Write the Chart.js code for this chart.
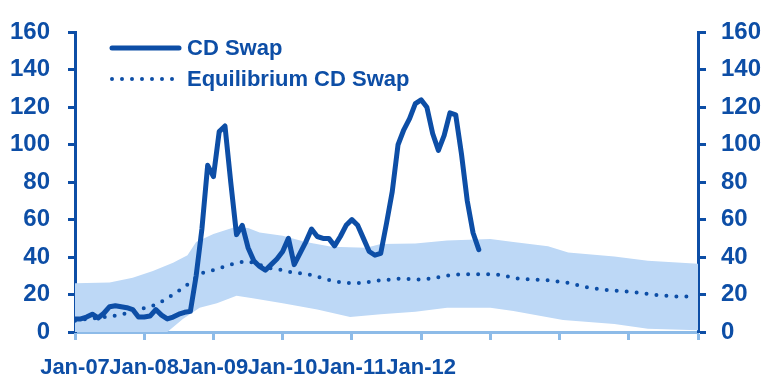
<!DOCTYPE html>
<html>
<head>
<meta charset="utf-8">
<script src="https://cdn.jsdelivr.net/npm/chart.js@4"></script>
<style>
  body { margin: 0; background: #fff; }
  canvas { display: block; }
</style>
</head>
<body>
<canvas id="chart" width="764" height="380"></canvas>
<script>
// months counted from Jan-07
const cdMonths = [0, 1, 2, 3, 4, 5, 6, 7, 8, 9, 10, 11, 12, 13, 14, 15, 16, 17, 18, 19, 20,
  21, 22, 23, 24, 25, 26, 27, 28, 29, 30, 31, 32, 33, 34, 35, 36, 37, 38, 39, 40,
  41, 42, 43, 44, 45, 46, 47, 48, 49, 50, 51, 52, 53, 54, 55, 56, 57, 58, 59, 60,
  61, 62, 63, 64, 65, 66, 67, 68, 69, 70];
const cdSwap = [7, 7, 8, 9.5, 7.5, 10, 13.5, 14, 13.5, 13, 12, 8, 8, 8.5, 12, 9, 7, 8, 9.5, 10.5, 11,
  30, 55, 89, 83, 107, 110, 80, 52, 57, 45, 38, 35, 33, 36, 39, 43, 50, 36, 42, 48,
  55, 51, 50, 50, 46, 51, 57, 60, 57, 50, 43, 41, 42, 58, 75, 100, 108, 114, 122, 124,
  120, 106, 97, 105, 117, 116, 95, 70, 53, 44];

const eqMonths = [0, 2, 4, 6, 8, 10, 12, 14, 16, 18, 20, 22, 24, 26, 28, 30, 32, 34, 36, 38, 40,
  42, 44, 46, 48, 50, 52, 54, 56, 58, 60, 62, 64, 66, 68, 70, 72, 74, 76, 78, 80,
  82, 84, 86, 88, 90, 92, 94, 96, 98, 100, 102, 104, 106];
const eqSwap = [6, 7, 7.5, 8.3, 9.3, 11, 12.7, 14.5, 18, 22, 26.5, 31.5, 33, 35, 37, 37.8, 35.8, 34, 33, 31.5, 31.2,
  29.5, 27.8, 26.6, 26, 26.2, 27.3, 27.8, 28.5, 28.3, 28, 28.6, 30, 30.6, 30.9, 30.9, 30.9, 30.5, 28.8, 28.3, 28,
  27.6, 26.8, 26, 24.3, 23.2, 22.5, 22, 21.5, 21, 20, 19.4, 19, 18.9];

// confidence band around the equilibrium
const bandMonths = [0, 6, 10, 13.5, 17, 19.5, 21, 24, 27.5, 30, 32, 36, 40, 44.5, 50.5, 53, 59, 64.5, 72, 76, 82, 85.5, 93.5, 99.3, 108];
const bandUpper = [26, 26.5, 29, 32.6, 37, 41, 48, 52.3, 55.8, 55.5, 53.2, 51.4, 48, 45.5, 45, 47, 47.2, 48.9, 49.7, 48, 45.8, 42.4, 40.3, 38, 36.4];
const bandLowMonths = [0, 16, 18.7, 21.6, 24.6, 28, 30.8, 36, 42, 47.7, 53, 59, 64.5, 72, 76, 84.6, 93.5, 99.3, 108];
const bandLower = [0, 0, 6.9, 12.9, 15.4, 19.4, 18, 15.4, 12, 8, 9.5, 10.8, 12.9, 12.9, 11.2, 6.4, 4.3, 1.7, 0.9];

const xTickLabels = ['Jan-07', 'Jan-08', 'Jan-09', 'Jan-10', 'Jan-11', 'Jan-12', '', '', '', ''];

const DARK = '#0d4ea6';
const LIGHT = '#bdd8f6';
const AXIS_LIGHT = '#8dbbe8';

const pts = (xs, ys) => xs.map((x, i) => ({ x: x, y: ys[i] }));

// legend drawn by hand in the top-left of the plot
const legendPlugin = {
  id: 'cdLegend',
  afterDraw(chart) {
    const ctx = chart.ctx;
    ctx.save();
    ctx.font = 'bold 22px "Liberation Sans", Arial, sans-serif';
    ctx.fillStyle = DARK;
    ctx.textBaseline = 'middle';

    ctx.strokeStyle = DARK;
    ctx.lineCap = 'round';
    ctx.lineWidth = 5;
    ctx.beginPath();
    ctx.moveTo(112, 48);
    ctx.lineTo(179, 48);
    ctx.stroke();
    ctx.fillText(chart.data.datasets[3].label, 187, 49);

    ctx.lineWidth = 4;
    ctx.setLineDash([0, 10]);
    ctx.beginPath();
    ctx.moveTo(112, 79);
    ctx.lineTo(176, 79);
    ctx.stroke();
    ctx.setLineDash([]);
    ctx.fillText(chart.data.datasets[2].label, 187, 80);
    ctx.restore();
  }
};

const xFont = { family: '"Liberation Sans", Arial, sans-serif', size: 22, weight: 'bold' };
const yFont = { family: '"Liberation Sans", Arial, sans-serif', size: 24, weight: 'bold' };

new Chart(document.getElementById('chart'), {
  type: 'line',
  data: {
    datasets: [
      {
        label: 'lower',
        data: pts(bandLowMonths, bandLower),
        borderWidth: 0,
        pointRadius: 0,
        fill: false,
        order: 3,
        yAxisID: 'y'
      },
      {
        label: 'upper',
        data: pts(bandMonths, bandUpper),
        borderWidth: 0,
        pointRadius: 0,
        backgroundColor: LIGHT,
        fill: 0,
        order: 2,
        yAxisID: 'y'
      },
      {
        label: 'Equilibrium CD Swap',
        data: pts(eqMonths, eqSwap),
        borderColor: DARK,
        borderWidth: 4,
        borderDash: [0, 10],
        borderCapStyle: 'round',
        pointRadius: 0,
        fill: false,
        order: 1,
        yAxisID: 'y'
      },
      {
        label: 'CD Swap',
        data: pts(cdMonths, cdSwap),
        borderColor: DARK,
        borderWidth: 5,
        borderJoinStyle: 'round',
        borderCapStyle: 'round',
        pointRadius: 0,
        fill: false,
        order: 0,
        yAxisID: 'y'
      }
    ]
  },
  options: {
    responsive: false,
    animation: false,
    devicePixelRatio: 1,
    layout: { padding: { top: 21, left: 0, right: 0, bottom: 0 } },
    plugins: {
      legend: { display: false },
      tooltip: { enabled: false }
    },
    scales: {
      x: {
        type: 'linear',
        min: 0,
        max: 108,
        afterFit: (scale) => { scale.height = 48; },
        afterBuildTicks: (scale) => {
          scale.ticks = xTickLabels.map((_, i) => ({ value: i * 12 }));
        },
        ticks: {
          color: DARK,
          font: xFont,
          padding: 15,
          maxRotation: 0,
          autoSkip: false,
          callback: (v, i) => xTickLabels[i]
        },
        grid: {
          drawOnChartArea: false,
          tickLength: 8,
          tickColor: AXIS_LIGHT,
          tickWidth: 3
        },
        border: { color: AXIS_LIGHT, width: 3 }
      },
      y: {
        position: 'left',
        min: 0,
        max: 160,
        afterFit: (scale) => { scale.width = 75; },
        ticks: { stepSize: 20, color: DARK, font: yFont, padding: 18 },
        grid: { drawOnChartArea: false, tickLength: 7, tickColor: DARK, tickWidth: 3 },
        border: { color: DARK, width: 3 }
      },
      y2: {
        position: 'right',
        min: 0,
        max: 160,
        afterFit: (scale) => { scale.width = 66; },
        ticks: { stepSize: 20, color: DARK, font: yFont, padding: 15 },
        grid: { drawOnChartArea: false, tickLength: 8, tickColor: DARK, tickWidth: 3 },
        border: { color: DARK, width: 3 }
      }
    }
  },
  plugins: [legendPlugin]
});
</script>
</body>
</html>
